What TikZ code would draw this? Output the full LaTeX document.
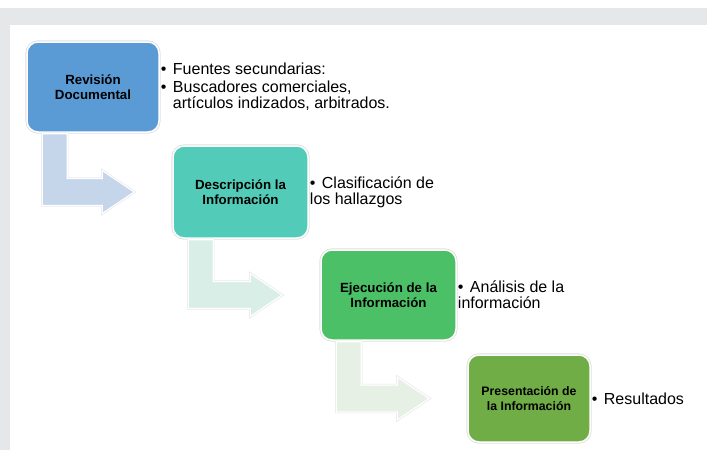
\documentclass[tikz,border=0pt]{standalone}
\usepackage{fontspec}
\setmainfont{Liberation Sans}
\usetikzlibrary{positioning,calc}

\definecolor{frameGray}{HTML}{E6E7E8}
\definecolor{revBlue}{HTML}{5B9BD5}
\definecolor{descTeal}{HTML}{52CCB8}
\definecolor{ejecGreen}{HTML}{4BC066}
\definecolor{presGreen}{HTML}{70AD47}
\definecolor{arrowBlue}{HTML}{C5D5EA}
\definecolor{arrowTeal}{HTML}{D9EEE7}
\definecolor{arrowMint}{HTML}{E7F0E5}

\newcommand{\bul}{\makebox[12pt][l]{\textbullet}}

\begin{document}
\begin{tikzpicture}[x=1pt, y=-1pt,
    boxStyle/.style={rounded corners=11pt, draw=white, line width=1.5pt,
        preaction={draw=black!13, line width=3.2pt},
        font=\bfseries\fontsize{13.3}{15.5}\selectfont, align=center, inner sep=0pt},
    infoStyle/.style={align=left, inner sep=0pt, font=\fontsize{16}{16}\selectfont},
    arrowStyle/.style={draw=white, line width=1.2pt, line join=miter,
        preaction={draw=black!10, line width=2.4pt}}]
    \useasboundingbox (0,0) rectangle (707,450);

    % Frame
    \fill[frameGray] (0,8) rectangle (707,25);
    \fill[frameGray] (0,8) rectangle (10,450);

    % Steps
    \node[boxStyle, fill=revBlue,   minimum width=132pt, minimum height=90pt] (rev)  at (93,87)     {Revisión\\Documental};
    \node[boxStyle, fill=descTeal,  minimum width=135pt, minimum height=92pt] (desc) at (240.5,192) {Descripción la\\Información};
    \node[boxStyle, fill=ejecGreen, minimum width=135pt, minimum height=90pt] (ejec) at (388.5,295) {Ejecución de la\\Información};
    \node[boxStyle, fill=presGreen, minimum width=122pt, minimum height=87pt,
          font=\bfseries\fontsize{12.3}{15}\selectfont] (pres) at (529,398.5) {Presentación de\\la Información};

    % Details
    \node[infoStyle, right=1pt of rev]  (revInfo)  {\bul Fuentes secundarias:\\[2pt]
                                                    \bul Buscadores comerciales,\\
                                                    \hspace*{12pt}artículos indizados, arbitrados.};
    \node[infoStyle, right=1pt of desc] (descInfo) {\bul Clasificación de\\los hallazgos};
    \node[infoStyle, right=1pt of ejec] (ejecInfo) {\bul Análisis de la\\información};
    \node[infoStyle, right=1pt of pres] (presInfo) {\bul Resultados};

    % Bent arrows
    \foreach \from/\to/\col in {rev/desc/arrowBlue, desc/ejec/arrowTeal, ejec/pres/arrowMint}
        \draw[arrowStyle, fill=\col] ($(\from.south west)+(16,1)$) coordinate (s)
            -- ++(25,0) |- ($(\to.west)+(-70,-13.5)$) -- ++(0,-8)
            -- ($(\to.west)+(-38,0)$)
            -- ($(\to.west)+(-70,21.5)$) -- ++(0,-8) -| (s) -- cycle;
\end{tikzpicture}
\end{document}
